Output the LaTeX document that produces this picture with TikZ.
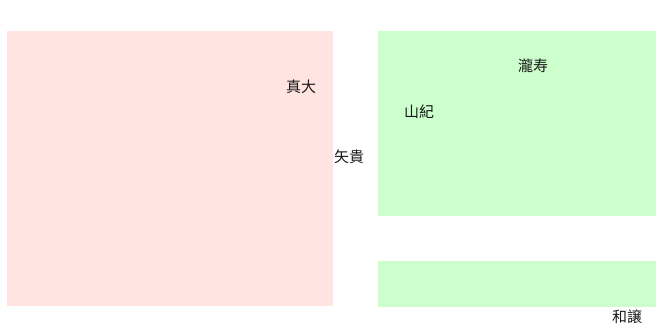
\documentclass[tikz,border=0pt]{standalone}
\usepackage{fontspec}
\newfontfamily\cjk{Noto Sans CJK SC}
\definecolor{pinkfill}{HTML}{FFE4E1}
\definecolor{greenfill}{HTML}{CCFFCC}
\begin{document}
\begin{tikzpicture}[x=1pt,y=-1pt,
  region/.style={draw=none},
  lbl/.style={font=\cjk\fontsize{15}{17}\selectfont, inner sep=0pt, text=black!90}]
\useasboundingbox (0,0) rectangle (656,327);
\fill[pinkfill] (7,31) rectangle (333,306);
\fill[greenfill] (378,31) rectangle (656,216);
\fill[greenfill] (378,261) rectangle (656,307);
\node[lbl] (a) at (301,87) {真大};
\node[lbl] (b) at (349,157) {矢貴};
\node[lbl] (c) at (533,66) {瀧寿};
\node[lbl] (d) at (419,112) {山紀};
\node[lbl] (e) at (627,317) {和譲};
\end{tikzpicture}
\end{document}
